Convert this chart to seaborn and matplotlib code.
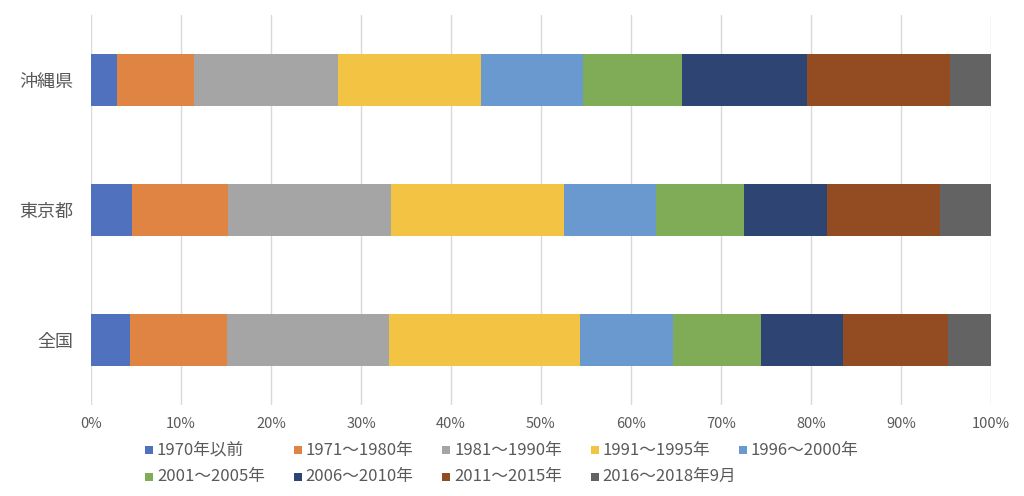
import numpy as np
import pandas as pd
import seaborn as sns
import matplotlib.pyplot as plt
from matplotlib.patches import Rectangle
from matplotlib.ticker import PercentFormatter

# Data (share of buildings by construction period, %)
regions = ["沖縄県", "東京都", "全国"]
periods = ["1970年以前", "1971～1980年", "1981～1990年", "1991～1995年", "1996～2000年",
           "2001～2005年", "2006～2010年", "2011～2015年", "2016～2018年9月"]
okinawa = [2.9, 8.5, 16.0, 15.9, 11.4, 11.0, 13.9, 15.8, 4.6]
tokyo = [4.5, 10.7, 18.1, 19.2, 10.3, 9.7, 9.3, 12.5, 5.7]
zenkoku = [4.3, 10.8, 18.0, 21.2, 10.4, 9.7, 9.2, 11.6, 4.8]
colors = ["#5072BE", "#E08444", "#A5A5A5", "#F3C343", "#6999CE",
          "#80AB57", "#2E4473", "#934C22", "#636363"]

sns.set_theme(style="white")
plt.rcParams["font.family"] = ["Noto Sans CJK JP", "DejaVu Sans"]

df = pd.DataFrame([okinawa, tokyo, zenkoku], index=regions, columns=periods)
cum = df.cumsum(axis=1)

W, H = 1024, 496
fig = plt.figure(figsize=(W / 100, H / 100), dpi=100)
ax = fig.add_axes([91 / W, 1 - 405 / H, 900 / W, 390 / H])

# draw cumulative bars back to front to get a stacked look
for col, c in reversed(list(zip(periods, colors))):
    sns.barplot(x=cum[col].values, y=regions, orient="h", color=c,
                width=0.4, saturation=1, ax=ax, linewidth=0, zorder=2)

ax.set_xlim(0, 100)
ax.set_ylim(2.5, -0.5)
ax.set_xticks(np.arange(0, 101, 10))
ax.xaxis.set_major_formatter(PercentFormatter(decimals=0))
ax.grid(axis="x", color="#D9D9D9", linewidth=1, zorder=0)
ax.set_axisbelow(True)
for s in ax.spines.values():
    s.set_visible(False)
ax.set_xlabel("")
ax.set_ylabel("")
ax.tick_params(axis="x", labelsize=10.5, colors="#595959", length=0, pad=9)
ax.tick_params(axis="y", labelsize=13, colors="#595959", length=0, pad=13)

# legend in fixed-width slots, row by row (like the Excel original)
for i, (p, c) in enumerate(zip(periods, colors)):
    x0 = 145 + 148.5 * (i % 5)
    yc = 450 + 26.5 * (i // 5)
    fig.add_artist(Rectangle((x0 / W, 1 - (yc + 4) / H), 8 / W, 8 / H,
                             transform=fig.transFigure, facecolor=c, edgecolor="none"))
    fig.text((x0 + 12) / W, 1 - yc / H, p, fontsize=12, color="#595959",
             va="center", ha="left")

fig.savefig("out.png", dpi=100)
